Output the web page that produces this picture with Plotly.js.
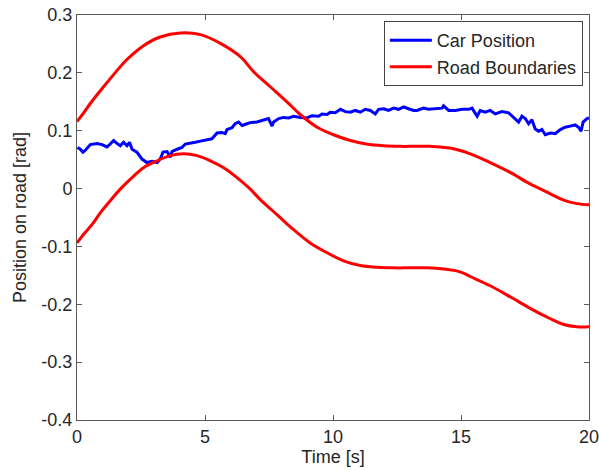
<!DOCTYPE html>
<html>
<head>
<meta charset="utf-8">
<script src="https://cdn.plot.ly/plotly-3.0.1.min.js"></script>
<style>html,body{margin:0;padding:0;background:#fff;}#chart{width:599px;height:470px;}</style>
</head>
<body>
<div id="chart"></div>
<script>
// Car position (blue)
const carTime = [0.02,0.13,0.23,0.32,0.52,0.78,0.98,1.17,1.30,1.43,1.56,1.69,1.82,1.95,2.05,2.15,2.34,2.54,2.73,2.93,3.13,3.25,3.36,3.52,3.64,3.71,3.91,4.10,4.23,4.43,4.62,4.82,5.08,5.27,5.47,5.66,5.79,5.86,6.05,6.18,6.31,6.45,6.64,6.77,7.03,7.29,7.48,7.62,7.68,7.88,8.07,8.27,8.46,8.72,8.98,9.18,9.44,9.57,9.77,9.89,10.09,10.29,10.48,10.68,10.87,11.07,11.26,11.46,11.65,11.78,11.98,12.17,12.37,12.56,12.76,12.95,13.15,13.28,13.54,13.73,14.00,14.26,14.32,14.52,14.78,15.04,15.30,15.43,15.63,15.75,15.95,16.14,16.34,16.60,16.86,17.05,17.25,17.38,17.51,17.64,17.77,17.90,18.03,18.16,18.29,18.49,18.68,18.88,19.07,19.27,19.46,19.59,19.69,19.77,19.92,20.00];
const carPos = [0.071,0.068,0.063,0.066,0.076,0.078,0.076,0.072,0.077,0.083,0.078,0.074,0.080,0.074,0.080,0.068,0.063,0.051,0.045,0.047,0.045,0.051,0.063,0.064,0.054,0.064,0.068,0.071,0.077,0.078,0.080,0.082,0.084,0.086,0.096,0.097,0.095,0.102,0.105,0.112,0.115,0.109,0.112,0.114,0.115,0.118,0.121,0.108,0.115,0.121,0.123,0.122,0.125,0.123,0.122,0.126,0.125,0.129,0.128,0.132,0.131,0.137,0.133,0.132,0.135,0.132,0.137,0.135,0.129,0.137,0.138,0.135,0.139,0.137,0.141,0.138,0.135,0.135,0.139,0.137,0.138,0.139,0.143,0.135,0.135,0.137,0.137,0.139,0.125,0.135,0.132,0.135,0.129,0.133,0.131,0.123,0.115,0.125,0.121,0.112,0.119,0.103,0.099,0.102,0.093,0.096,0.095,0.102,0.106,0.108,0.110,0.106,0.099,0.115,0.121,0.122];

// Road boundaries (red), upper and lower
const upperTime = [0,0.26,0.52,0.91,1.30,1.95,2.60,3.25,4.04,4.82,5.60,6.38,6.90,7.55,8.20,8.72,9.38,10.02,10.68,11.30,11.98,12.63,13.20,13.80,14.58,15.36,16.14,16.92,17.70,18.49,19.01,19.53,20];
const upperPos = [0.116,0.131,0.147,0.169,0.190,0.223,0.247,0.262,0.269,0.266,0.251,0.228,0.202,0.176,0.150,0.128,0.106,0.093,0.083,0.077,0.074,0.073,0.073,0.073,0.070,0.060,0.045,0.028,0.008,-0.009,-0.020,-0.026,-0.028];
const lowerTime = [0,0.26,0.59,0.91,1.30,1.69,2.15,2.60,3.13,3.64,4.16,4.69,5.21,5.73,6.25,6.77,7.16,7.81,8.46,9.11,9.77,10.41,11.07,11.72,12.37,13.02,13.67,14.32,14.97,15.36,16.14,16.92,17.70,18.49,19.01,19.53,20];
const lowerPos = [-0.094,-0.079,-0.062,-0.042,-0.021,-0.001,0.019,0.036,0.048,0.057,0.060,0.057,0.048,0.036,0.019,-0.001,-0.019,-0.045,-0.071,-0.094,-0.111,-0.125,-0.133,-0.136,-0.137,-0.137,-0.137,-0.139,-0.144,-0.152,-0.168,-0.187,-0.207,-0.225,-0.235,-0.239,-0.239];

const xTickVals = [0,5,10,15,20];
const xTickText = ['0','5','10','15','20'];
const yTickVals = [-0.4,-0.3,-0.2,-0.1,0,0.1,0.2,0.3];
const yTickText = ['-0.4','-0.3','-0.2','-0.1','0','0.1','0.2','0.3'];

const FONT = 'Liberation Sans, Arial, sans-serif';
const TXT = '#262626';
const AX = '#5a5a5a';

const traces = [
  {x: carTime, y: carPos, type: 'scatter', mode: 'lines', name: 'Car Position',
   line: {color: '#0000ff', width: 3}},
  {x: upperTime, y: upperPos, type: 'scatter', mode: 'lines', name: 'Road Boundaries',
   legendgroup: 'road', line: {color: '#ff0000', width: 3, shape: 'spline', smoothing: 1}},
  {x: lowerTime, y: lowerPos, type: 'scatter', mode: 'lines', name: 'Road Boundaries',
   legendgroup: 'road', showlegend: false, line: {color: '#ff0000', width: 3, shape: 'spline', smoothing: 1}}
];

const axisCommon = {
  showgrid: false, zeroline: false, showline: true, mirror: 'ticks',
  linecolor: AX, linewidth: 1, ticks: 'inside', ticklen: 5, tickcolor: AX,
  tickfont: {family: FONT, size: 18, color: TXT}, tickmode: 'array',
  ticklabeloverflow: 'allow'
};

const layout = {
  width: 599, height: 470,
  margin: {l: 77, r: 10, t: 15, b: 50},
  paper_bgcolor: '#ffffff', plot_bgcolor: '#ffffff',
  showlegend: true,
  legend: {x: 0.988, y: 0.985, xanchor: 'right', yanchor: 'top',
    bgcolor: '#ffffff', bordercolor: '#444444', borderwidth: 1,
    font: {family: FONT, size: 18, color: TXT}, itemwidth: 42, tracegroupgap: 0},
  xaxis: Object.assign({}, axisCommon, {range: [0, 20], tickvals: xTickVals, ticktext: xTickText,
    title: {text: 'Time [s]', font: {family: FONT, size: 18, color: TXT}, standoff: 4}}),
  yaxis: Object.assign({}, axisCommon, {range: [-0.4, 0.3], tickvals: yTickVals, ticktext: yTickText,
    title: {text: 'Position on road [rad]', font: {family: FONT, size: 18, color: TXT}, standoff: 10}})
};

Plotly.newPlot('chart', traces, layout, {displayModeBar: false, staticPlot: true});
</script>
</body>
</html>
